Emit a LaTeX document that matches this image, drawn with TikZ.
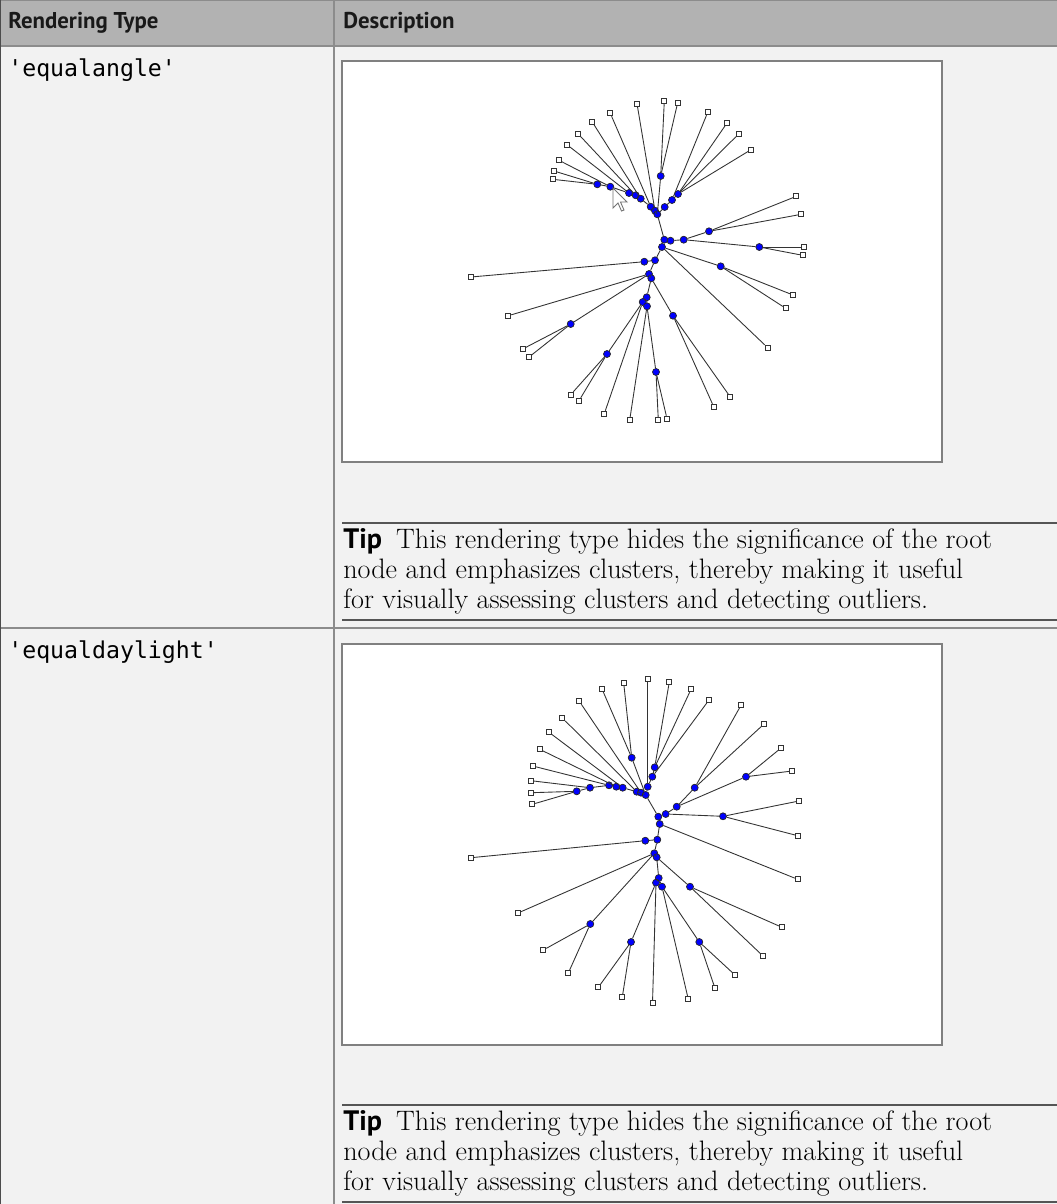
\documentclass[tikz,border=0pt]{standalone}
\usepackage{fontspec}
\setmonofont{DejaVu Sans Mono}
\newfontfamily\hdfont{PT Sans}
\definecolor{hdgray}{HTML}{B2B2B2}
\definecolor{rowbg}{HTML}{F2F2F2}
\definecolor{gridgray}{HTML}{8C8C8C}
\definecolor{boxgray}{HTML}{808080}
\definecolor{rulegray}{HTML}{555555}
\definecolor{treeblue}{HTML}{0000FF}
\newcommand{\tipbody}{{\hdfont\bfseries Tip}\enspace This rendering type hides the significance of the root\\
node and emphasizes clusters, thereby making it useful\\
for visually assessing clusters and detecting outliers.}

\begin{document}
\begin{tikzpicture}[x=0.02cm, y=-0.02cm,
  lf/.style={draw=black!80, fill=white, line width=0.5pt, minimum size=0.1cm, inner sep=0pt},
  br/.style={circle, draw=black!85, fill=treeblue, line width=0.4pt, minimum size=0.14cm, inner sep=0pt},
  ln/.style={black!80, line width=0.5pt},
  grid/.style={draw=gridgray, line width=0.8pt},
  picbox/.style={draw=boxgray, fill=white, line width=1pt},
  tiprule/.style={draw=rulegray, line width=1.2pt},
  hd/.style={anchor=west, inner sep=0pt, font=\hdfont\bfseries\fontsize{13}{15}\selectfont, text=black!90},
  mono/.style={anchor=west, inner sep=0pt, font=\ttfamily\fontsize{13.2}{15}\selectfont},
  tipbox/.style={anchor=north west, inner sep=0pt, align=left, font=\fontsize{16}{17}\selectfont}
]
\useasboundingbox (0,0) rectangle (1057,1204);
% table
\fill[rowbg] (0,46) rectangle (1057,1204);
\fill[hdgray] (0,0) rectangle (1057,46);
\draw[grid] (0,0.5) -- (1057,0.5);
\draw[grid] (0,46) -- (1057,46);
\draw[grid] (0,628) -- (1057,628);
\draw[draw=black!70, line width=0.8pt] (0.6,0) -- (0.6,1204);
\draw[grid] (334,0) -- (334,1204);
\node[hd] (hdtype) at (8,23) {Rendering Type};
\node[hd] (hddesc) at (343,23) {Description};
\node[mono] (ea) at (8,70) {'equalangle'};
\node[mono] (ed) at (8,652) {'equaldaylight'};
% picture frames
\draw[picbox] (342,61) rectangle (942,462);
\draw[picbox] (342,644) rectangle (942,1045);
% tips
\draw[tiprule] (342,523) -- (1057,523);
\node[tipbox] (tip1) at (343,528) {\tipbody};
\draw[tiprule] (342,620) -- (1057,620);
\draw[tiprule] (342,1105) -- (1057,1105);
\node[tipbox] (tip2) at (343,1110) {\tipbody};
\draw[tiprule] (342,1202) -- (1057,1202);

% equalangle tree
\foreach \n/\x/\y in {aL1/552.7/179.3, aL2/554/171, aL3/559/160.3, aL4/567/144.7, aL5/578/133.7,
  aL6/592.3/122, aL7/610.3/113.3, aL8/637/103.7, aL9/664.3/101.3, aL10/677.7/102.5,
  aR1/707.7/112.3, aR2/727/123, aR3/739/133.7, aR4/751/149.7, aR5/796.3/196.3, aR6/801.3/214.3,
  aR7/803.7/247, aR8/802.7/255.3, aR9/793/295, aR10/785.7/308.3, aR11/767.7/347.7,
  aW1/471/277, aW2/508.3/315.7, aW3/522.7/349, aW4/528.7/357.3, aW5/570.7/394.7, aW6/579/400.7,
  aW7/604.3/413.7, aW8/629.7/420, aW9/658.3/420, aW10/667/418.7, aW11/730.3/397, aW12/713.7/406.7}
  \node[lf] (\n) at (\x,\y) {};
\foreach \n/\x/\y in {ac1/597.3/184.3, ac2/610.3/186.7, ac3/629/193, ac4/635.7/195.3, ac5/640.7/198.7,
  ac6/650.7/206.7, ac7/655/210.7, ac8/657.3/214.3, ac9/660.7/176, ad1/678/194, ad2/672/200,
  ad3/664.7/207, ae1/709/231.3, ae2/683.7/239.7, ae3/670.5/240.7, ae4/664.3/239.7, ae5/759.3/247,
  ae6/662/247, ae7/720.7/266.3, af1/644.3/261.7, af2/655/260.3, ag1/649/274, ag2/651.3/278.3,
  ah1/570.7/324, ai1/646.7/297.3, ai2/642.7/302, ai3/647/306.3, aj1/673/315.7, ak1/607/354, am1/656/372}
  \node[br] (\n) at (\x,\y) {};
\foreach \a/\b in {aL1/ac1, aL2/ac1, ac1/ac2, aL3/ac2, ac2/ac3, aL4/ac3, ac3/ac4, aL5/ac4, ac4/ac5,
  aL6/ac5, ac5/ac6, aL7/ac6, ac6/ac7, aL8/ac7, ac7/ac8, aL9/ac9, aL10/ac9, ac9/ac8, ad3/ac8,
  ad3/ad2, ad2/aR1, ad2/ad1, ad1/aR2, ad1/aR3, ad1/aR4, ac8/ae4, ae4/ae3, ae3/ae2, ae2/ae1,
  ae1/aR5, ae1/aR6, ae2/ae5, ae5/aR7, ae5/aR8, ae4/ae6, ae6/ae7, ae7/aR9, ae7/aR10, ae6/aR11,
  ae6/af2, af2/af1, af1/aW1, af2/ag1, ag1/ag2, ag1/aW2, ag1/ah1, ah1/aW3, ah1/aW4, ag2/ai1,
  ag2/aj1, aj1/aW11, aj1/aW12, ai1/ai2, ai1/ai3, ai2/ak1, ak1/aW5, ak1/aW6, ai2/aW7, ai3/aW8,
  ai3/am1, am1/aW9, am1/aW10}
  \draw[ln] (\a) -- (\b);
% mouse pointer
\draw[fill=white, draw=black!55, line width=0.5pt] (613,188) -- ++(0,20) -- ++(5,-5) -- ++(3.5,8)
  -- ++(2.5,-1) -- ++(-3.5,-8) -- ++(6.5,0) -- cycle;

% equaldaylight tree
\foreach \n/\x/\y in {bL1/532.3/804.3, bL2/531/792.7, bL3/531/780.7, bL4/532.7/766, bL5/539.7/749.3,
  bL6/549/732.3, bL7/562.3/718, bL8/579.3/701.3, bL9/602/689, bL10/623.7/683, bL11/647.7/679.3,
  bR1/669.3/682, bR2/691/689.3, bR3/709/700, bR4/741.3/704.7, bR5/764/724, bR6/781/748,
  bR7/792/771, bR8/799/801, bR9/797.7/835.7, bR10/797.7/879.3,
  bW1/471/857.7, bW2/518/913, bW3/543.3/950, bW4/568.3/973, bW5/598.3/987.3, bW6/622.3/997,
  bW7/652.5/1003, bW8/688.3/999.3, bW9/715/988.3, bW10/735.3/975.3, bW11/763/956, bW12/782/927.3}
  \node[lf] (\n) at (\x,\y) {};
\foreach \n/\x/\y in {bp1/576.7/791.3, bp2/590/787.7, bp3/609/785.3, bp4/616.3/786.7, bp5/622.7/787.7,
  bp6/631.7/757.7, bp7/636.7/791.7, bp8/641/792.7, bp9/645.7/795, bq1/647.7/786.7, bq2/652.3/776.7,
  bq3/654.7/767.3, bs1/694.7/787.7, bs2/746/776.7, bs3/676.7/806.7, bt1/723/816.3, br1/658.3/816.7,
  br2/665.7/814, br3/659.7/824, br4/657.3/839.7, br5/645.3/840.7, bu1/654.3/853.3, bu2/656.7/857.3,
  bh1/590.3/924, bv1/658.7/878, bv2/656/882.7, bv3/662/886.7, bw1/690/886.7, bx1/631/942, by1/699.3/942}
  \node[br] (\n) at (\x,\y) {};
\foreach \a/\b in {bL1/bp1, bL2/bp1, bp1/bp2, bL3/bp2, bp2/bp3, bL4/bp3, bp3/bp4, bL5/bp4, bp4/bp5,
  bL6/bp5, bp5/bp7, bL7/bp7, bp7/bp8, bL8/bp8, bp8/bp9, bL9/bp6, bL10/bp6, bp6/bp9,
  bL11/bq1, bR1/bq3, bR2/bq3, bq3/bq2, bR3/bq2, bq2/bq1, bq1/bp9,
  bs1/bR4, bs1/bR5, bs2/bR6, bs2/bR7, bs3/bs1, bs3/bs2, bt1/bR8, bt1/bR9, br2/bs3, br2/bt1,
  br1/br2, bp9/br1, br1/br3, br3/bR10, br3/br4, br4/br5, br5/bW1, br4/bu1, bu1/bu2, bu1/bW2,
  bu1/bh1, bh1/bW3, bh1/bW4, bu2/bv1, bu2/bw1, bw1/bW12, bw1/bW11, bv1/bv2, bv1/bv3, bv2/bx1,
  bx1/bW5, bx1/bW6, bv2/bW7, bv3/bW8, bv3/by1, by1/bW10, by1/bW9}
  \draw[ln] (\a) -- (\b);
\end{tikzpicture}
\end{document}
